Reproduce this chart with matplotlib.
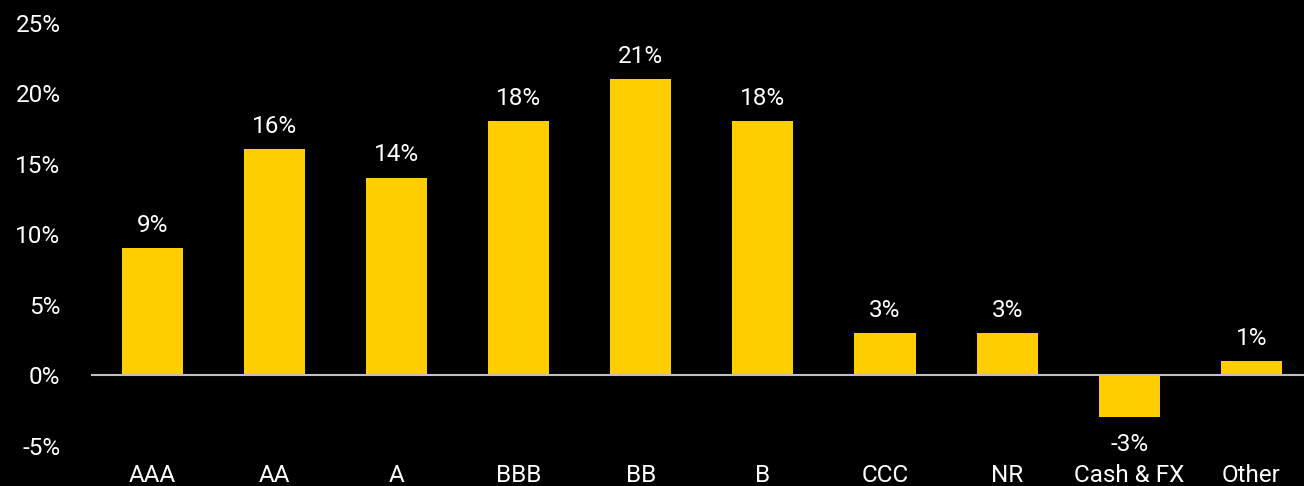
import matplotlib
matplotlib.use("Agg")
import matplotlib.pyplot as plt
from matplotlib.ticker import FuncFormatter

# credit quality breakdown, % of portfolio
ratings = ["AAA", "AA", "A", "BBB", "BB", "B", "CCC", "NR", "Cash & FX", "Other"]
weights = [9, 16, 14, 18, 21, 18, 3, 3, -3, 1]
yticks = [-5, 0, 5, 10, 15, 20, 25]

bar_color = "#FFCE00"
bg = "black"

plt.rcParams["font.family"] = ["Roboto", "DejaVu Sans"]
fs = 17.5

fig = plt.figure(figsize=(13.04, 4.86), dpi=100, facecolor=bg)
ax = fig.add_axes([0.0698, 0.0833, 0.9302, 0.8704], facecolor=bg)

x = list(range(len(ratings)))
ax.bar(x, weights, width=0.5, color=bar_color, zorder=2)
ax.axhline(0, color="#c0c0c0", lw=1.5, zorder=3)

for xi, v in zip(x, weights):
    if v >= 0:
        ax.annotate(f"{v}%", (xi, v), xytext=(0, 8), textcoords="offset points",
                    ha="center", va="bottom", color="white", fontsize=fs)
    else:
        ax.annotate(f"{v}%", (xi, v), xytext=(0, -11), textcoords="offset points",
                    ha="center", va="top", color="white", fontsize=fs)

ax.set_ylim(-5, 25)
ax.set_xlim(-0.5, 9.43)
ax.set_yticks(yticks)
ax.yaxis.set_major_formatter(FuncFormatter(lambda v, p: f"{v:.0f}%"))
ax.set_xticks(x)
ax.set_xticklabels(ratings)
ax.tick_params(axis="y", length=0, pad=22, colors="white", labelsize=fs)
ax.tick_params(axis="x", length=0, pad=13, colors="white", labelsize=fs)
for s in ax.spines.values():
    s.set_visible(False)

fig.savefig("out.png", dpi=100, facecolor=bg)
